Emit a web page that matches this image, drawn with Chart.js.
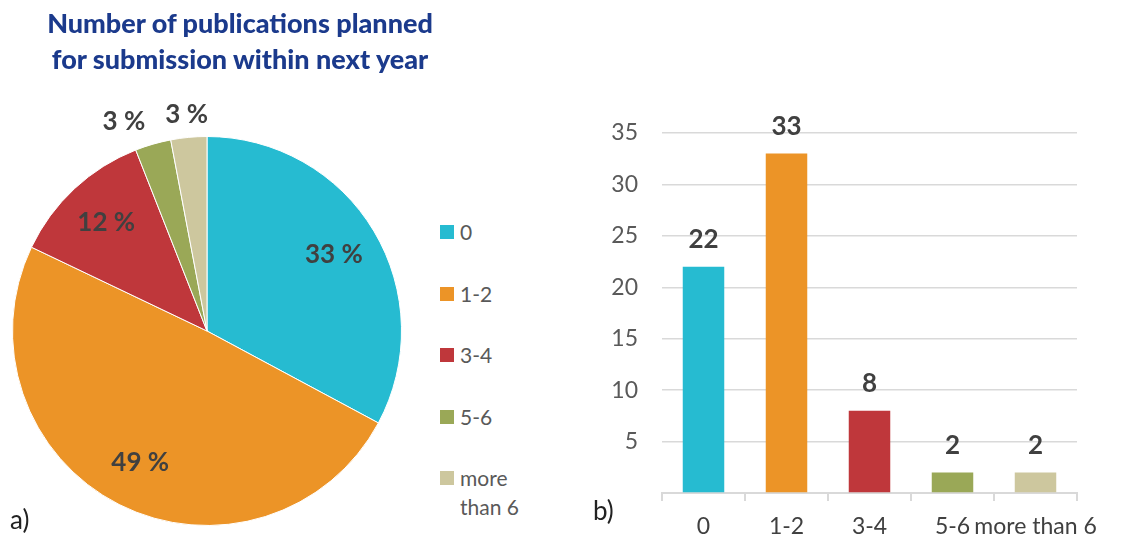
<!DOCTYPE html>
<html>
<head>
<meta charset="utf-8">
<script src="https://cdn.jsdelivr.net/npm/chart.js@4"></script>
<style>
  body { margin: 0; background: #fff; font-family: Lato, sans-serif; }
  #wrap { position: relative; width: 1145px; height: 541px; overflow: hidden; }
  #pieCanvas { position: absolute; left: 0; top: 0; }
  #barCanvas { position: absolute; left: 580px; top: 0; }
  #title {
    position: absolute; left: 30px; top: 5px; width: 420px;
    text-align: center; font-weight: 900; font-size: 27px; line-height: 36px; color: #1b3a8c;
  }
  #legend { position: absolute; left: 440px; top: 217px; }
  .item { display: flex; align-items: flex-start; height: 61.5px; font-size: 21px; color: #595959; line-height: 29px; }
  .box { width: 14px; height: 14px; margin: 8px 6px 0 0; flex: none; }
  .txt { max-width: 72px; }
  .tag { position: absolute; font-size: 26px; color: #222; }
</style>
</head>
<body>
<div id="wrap">
  <canvas id="pieCanvas" width="420" height="541"></canvas>
  <canvas id="barCanvas" width="565" height="541"></canvas>
  <div id="title">Number of publications planned<br>for submission within next year</div>
  <div id="legend"></div>
  <div class="tag" style="left:10px; top:503px;">a)</div>
  <div class="tag" style="left:593px; top:494px;">b)</div>
</div>
<script>
const categories = ['0', '1-2', '3-4', '5-6', 'more than 6'];
const counts = [22, 33, 8, 2, 2];
const colors = ['#26bbd1', '#ec9427', '#bf373b', '#9aa857', '#cdc79e'];
const yTicks = [5, 10, 15, 20, 25, 30, 35];

const labelColor = '#404040';

// legend next to the pie
const legend = document.getElementById('legend');
categories.forEach((c, i) => {
  const row = document.createElement('div');
  row.className = 'item';
  row.innerHTML = '<span class="box" style="background:' + colors[i] + '"></span><span class="txt">' + c + '</span>';
  legend.appendChild(row);
});

// percentage labels on the slices; the tiny slices get theirs outside
const pieLabels = {
  id: 'pieLabels',
  afterDatasetsDraw(chart) {
    const ctx = chart.ctx;
    const meta = chart.getDatasetMeta(0);
    const total = counts.reduce((a, b) => a + b, 0);
    ctx.save();
    ctx.font = 'bold 26px Lato';
    ctx.fillStyle = labelColor;
    ctx.textAlign = 'center';
    ctx.textBaseline = 'middle';
    let prevLeft = null;
    for (let i = meta.data.length - 1; i >= 0; i--) {
      const arc = meta.data[i];
      const pct = Math.round(counts[i] / total * 100);
      const text = pct + ' %';
      const mid = (arc.startAngle + arc.endAngle) / 2;
      const outside = pct < 5;
      const r = outside ? arc.outerRadius * 1.12 : arc.outerRadius * 0.76;
      let x = arc.x + Math.cos(mid) * r;
      const y = arc.y + Math.sin(mid) * r;
      if (outside) {
        const w = ctx.measureText(text).width;
        if (prevLeft !== null && x + w / 2 > prevLeft - 20) x = prevLeft - 20 - w / 2;
        prevLeft = x - w / 2;
      }
      ctx.fillText(text, x, y);
    }
    ctx.restore();
  }
};

new Chart(document.getElementById('pieCanvas'), {
  type: 'pie',
  data: {
    labels: categories,
    datasets: [{ data: counts, backgroundColor: colors, borderColor: '#fff', borderWidth: 1 }]
  },
  options: {
    responsive: false,
    animation: false,
    layout: { padding: { left: 12, right: 18, top: 136, bottom: 15 } },
    plugins: { legend: { display: false }, tooltip: { enabled: false } }
  },
  plugins: [pieLabels]
});

// value labels above the bars
const barValues = {
  id: 'barValues',
  afterDatasetsDraw(chart) {
    const ctx = chart.ctx;
    ctx.save();
    ctx.font = 'bold 26px Lato';
    ctx.fillStyle = labelColor;
    ctx.textAlign = 'center';
    ctx.textBaseline = 'middle';
    chart.getDatasetMeta(0).data.forEach((bar, i) => {
      ctx.fillText(counts[i], bar.x, bar.y - 27);
    });
    ctx.restore();
  }
};

new Chart(document.getElementById('barCanvas'), {
  type: 'bar',
  data: {
    labels: categories,
    datasets: [{ data: counts, backgroundColor: colors, barPercentage: 0.5, categoryPercentage: 1 }]
  },
  options: {
    responsive: false,
    animation: false,
    layout: { padding: { top: 133, right: 68 } },
    plugins: { legend: { display: false }, tooltip: { enabled: false } },
    scales: {
      x: {
        grid: { drawOnChartArea: false, tickLength: 8, color: '#d9d9d9', lineWidth: 2 },
        border: { color: '#d9d9d9', width: 2 },
        ticks: { font: { family: 'Lato', size: 23 }, color: labelColor, padding: 12, autoSkip: false, maxRotation: 0 },
        afterFit: s => { s.height = 48; }
      },
      y: {
        min: 0,
        max: yTicks[yTicks.length - 1],
        afterBuildTicks: s => { s.ticks = [0].concat(yTicks).map(v => ({ value: v })); },
        ticks: { callback: v => (v === 0 ? '' : v), font: { family: 'Lato', size: 23 }, color: '#595959', padding: 24 },
        grid: { color: '#d9d9d9', lineWidth: 1.5, drawTicks: false },
        border: { display: false },
        afterFit: s => { s.width = 82; }
      }
    }
  },
  plugins: [barValues]
});
</script>
</body>
</html>
